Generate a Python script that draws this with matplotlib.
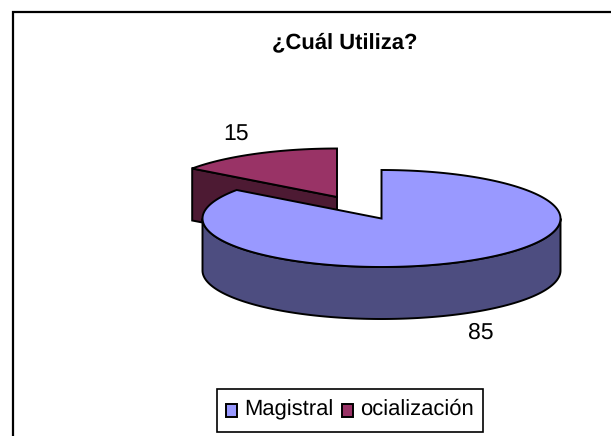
import numpy as np
import matplotlib
matplotlib.use("Agg")
import matplotlib.pyplot as plt
from matplotlib.patches import Rectangle

title = "¿Cuál Utiliza?"
categories = ["Magistral", "ocialización"]
values = [85, 15]
top_colors = ["#9999FF", "#993366"]
side_colors = ["#4D4D80", "#4D1A33"]

W, H = 611, 436
plt.rcParams['font.family'] = ['Liberation Sans', 'DejaVu Sans']
plt.rcParams['text.hinting'] = 'none'
plt.rcParams['text.hinting_factor'] = 1
fig = plt.figure(figsize=(W / 100, H / 100), dpi=100)
ax = fig.add_axes([0, 0, 1, 1])
ax.set_xlim(0, W)
ax.set_ylim(H, 0)
ax.axis('off')

RX, RY, DEPTH = 179, 48.5, 52
LW = 1.4


def rim(cx, cy, a0, a1):
    t = np.radians(np.linspace(a0, a1, 240))
    return cx + RX * np.sin(t), cy - RY * np.cos(t)


ax.add_patch(Rectangle((13, 12.5), 640, 460, fc='white', ec='black', lw=1.6, zorder=0))

frac = np.array(values) / sum(values) * 360
a_main = (0, frac[0])
a_small = (frac[0], 360)

# exploded slice (behind)
cx2, cy2 = 337, 197
x, y = rim(cx2, cy2, *a_small)
ax.fill([cx2, x[0], x[0], cx2], [cy2, y[0], y[0] + DEPTH, cy2 + DEPTH],
        fc=side_colors[1], ec='black', lw=LW, zorder=2)
ax.fill(np.r_[cx2, x], np.r_[cy2, y], fc=top_colors[1], ec='black', lw=LW, zorder=3, joinstyle='miter')

# main slice
cx1, cy1 = 381.5, 218.5
x, y = rim(cx1, cy1, *a_main)
t = np.radians(np.linspace(90, 270, 240))
xs = cx1 + RX * np.sin(t)
ys = cy1 - RY * np.cos(t)
ax.fill(np.r_[xs, xs[::-1]], np.r_[ys, ys[::-1] + DEPTH],
        fc=side_colors[0], ec='black', lw=LW, zorder=4)
ax.fill(np.r_[cx1, x], np.r_[cy1, y], fc=top_colors[0], ec='black', lw=LW, zorder=5, joinstyle='miter')

ax.text(236.5, 134.5, str(values[1]), fontsize=16.8, ha='center', va='center', zorder=6)
ax.text(480.5, 333, str(values[0]), fontsize=16.8, ha='center', va='center', zorder=6)
ax.text(345, 42.5, title, fontsize=15.7, fontweight='bold', ha='center', va='center', zorder=6)

# legend
ax.add_patch(Rectangle((217, 389), 266, 43, fc='white', ec='black', lw=1.2, zorder=6))
for sx, tx, c, lab in [(225.5, 244.5, top_colors[0], categories[0]), (341.5, 360.5, top_colors[1], categories[1])]:
    ax.add_patch(Rectangle((sx, 403.5), 11.5, 13, fc=c, ec='black', lw=1.4, zorder=7))
    ax.text(tx, 409.5, lab, fontsize=15.7, ha='left', va='center', zorder=7)

fig.savefig("out.png", dpi=100)
